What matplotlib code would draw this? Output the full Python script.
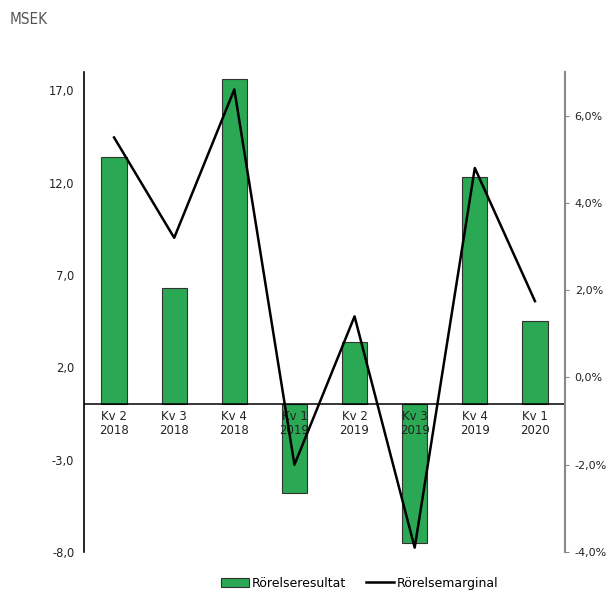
import matplotlib.pyplot as plt
import numpy as np

# data
quarters = ["Kv 2\n2018", "Kv 3\n2018", "Kv 4\n2018", "Kv 1\n2019",
            "Kv 2\n2019", "Kv 3\n2019", "Kv 4\n2019", "Kv 1\n2020"]
rorelseresultat = [13.4, 6.3, 17.6, -4.8, 3.4, -7.5, 12.3, 4.5]   # MSEK
rorelsemarginal = [5.5, 3.2, 6.6, -2.0, 1.4, -3.9, 4.8, 1.75]     # %

left_ticks = [-8, -3, 2, 7, 12, 17]
right_ticks = [-4, -2, 0, 2, 4, 6]

GREEN = "#2aa853"

fig = plt.figure(figsize=(6.09, 5.92), dpi=100)
ax = fig.add_axes([84 / 609, 1 - 552 / 592, 481 / 609, 480 / 592])
ax2 = ax.twinx()

x = np.arange(len(quarters)) + 0.5
ax.bar(x, rorelseresultat, width=0.42, color=GREEN, edgecolor="#333333",
       linewidth=0.8, label="Rörelseresultat", zorder=2)
ax.axhline(0, color="black", linewidth=1.1, zorder=3)
ax.set_xlim(0, len(quarters))
ax.set_ylim(-8, 18)
ax.set_yticks(left_ticks)
ax.set_yticklabels([f"{t:.1f}".replace(".", ",") for t in left_ticks])
ax.tick_params(axis="y", length=0, pad=7, labelsize=8.3, colors="#222222")
ax.set_xticks([])
for s in ["top", "right", "bottom"]:
    ax.spines[s].set_visible(False)
ax.spines["left"].set_linewidth(1.2)

for xi, lab in zip(x, quarters):
    ax.annotate(lab, (xi, 0), xytext=(0, -4), textcoords="offset points",
                ha="center", va="top", fontsize=8.5, color="#222222",
                linespacing=1.1, zorder=4)

ax2.plot(x, rorelsemarginal, color="black", linewidth=1.8, label="Rörelsemarginal", zorder=5)
ax2.set_ylim(-4, 7)
ax2.set_yticks(right_ticks)
ax2.set_yticklabels([f"{t:.1f}%".replace(".", ",") for t in right_ticks])
ax2.tick_params(axis="y", length=3, color="#888888", pad=4, labelsize=8.0, labelcolor="#222222")
for s in ["top", "left", "bottom"]:
    ax2.spines[s].set_visible(False)
ax2.spines["right"].set_color("#888888")
ax2.spines["right"].set_linewidth(1.5)

fig.text(10 / 609, 1 - 20 / 592, "MSEK", fontsize=11, color="#555555",
         ha="left", va="center", fontstretch="condensed", fontweight="light")

h1, l1 = ax.get_legend_handles_labels()
h2, l2 = ax2.get_legend_handles_labels()
fig.legend(h1 + h2, l1 + l2, loc="lower center", bbox_to_anchor=(360 / 609, 0.004), ncol=2,
           frameon=False, fontsize=9, handlelength=2.2, columnspacing=1.6,
           handletextpad=0.25, borderaxespad=0.0, borderpad=0.0)

fig.savefig("out.png", dpi=100)
